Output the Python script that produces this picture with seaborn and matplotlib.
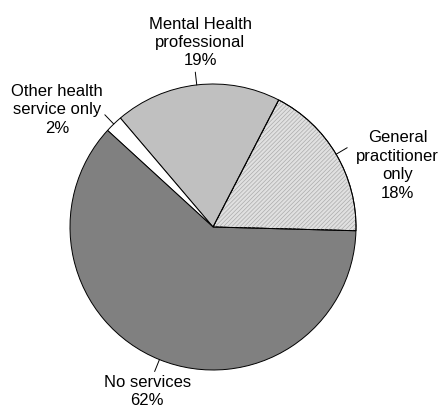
import numpy as np
import matplotlib
matplotlib.use("Agg")
import matplotlib.pyplot as plt
import seaborn as sns
from matplotlib.patches import Wedge

categories = ["General\npractitioner\nonly", "Mental Health\nprofessional",
              "Other health\nservice only", "No services"]
values = [18, 19, 2, 62]
pct_labels = ["18%", "19%", "2%", "62%"]
colors = ["#e0e0e0", "#c0c0c0", "#ffffff", "#808080"]

sns.set_theme(style="white")
plt.rcParams["font.family"] = ["Liberation Sans", "DejaVu Sans"]
plt.rcParams["hatch.linewidth"] = 0.5

fig = plt.figure(figsize=(4.41, 4.07), dpi=100)
ax = fig.add_axes([0, 0, 1, 1])

wedges, _ = ax.pie(values, colors=colors, startangle=-1.5, counterclock=True,
                   wedgeprops=dict(edgecolor="black", linewidth=0.7))

# hatch overlay for the GP slice
w0 = wedges[0]
ax.add_patch(Wedge(w0.center, w0.r, w0.theta1, w0.theta2, facecolor="none",
                   edgecolor="#ababab", hatch="////////", linewidth=0))
ax.add_patch(Wedge(w0.center, w0.r, w0.theta1, w0.theta2, facecolor="none",
                   edgecolor="black", linewidth=0.7))

text_pos = [(1.29, 0.43), (-0.09, 1.29), (-1.09, 0.82), (-0.46, -1.15)]
for w, cat, pl, (tx, ty) in zip(wedges, categories, pct_labels, text_pos):
    mid = np.deg2rad((w.theta1 + w.theta2) / 2)
    ax.plot([np.cos(mid), 1.09 * np.cos(mid)], [np.sin(mid), 1.09 * np.sin(mid)],
            color="black", linewidth=0.7)
    ax.text(tx, ty, cat + "\n" + pl, ha="center", va="center", fontsize=12,
            linespacing=1.28, color="black")

ax.set_xlim(-213 / 143, (441 - 213) / 143)
ax.set_ylim(-(407 - 227) / 143, 227 / 143)
ax.set_aspect("equal", adjustable="box")
ax.axis("off")

fig.savefig("out.png", dpi=100)
